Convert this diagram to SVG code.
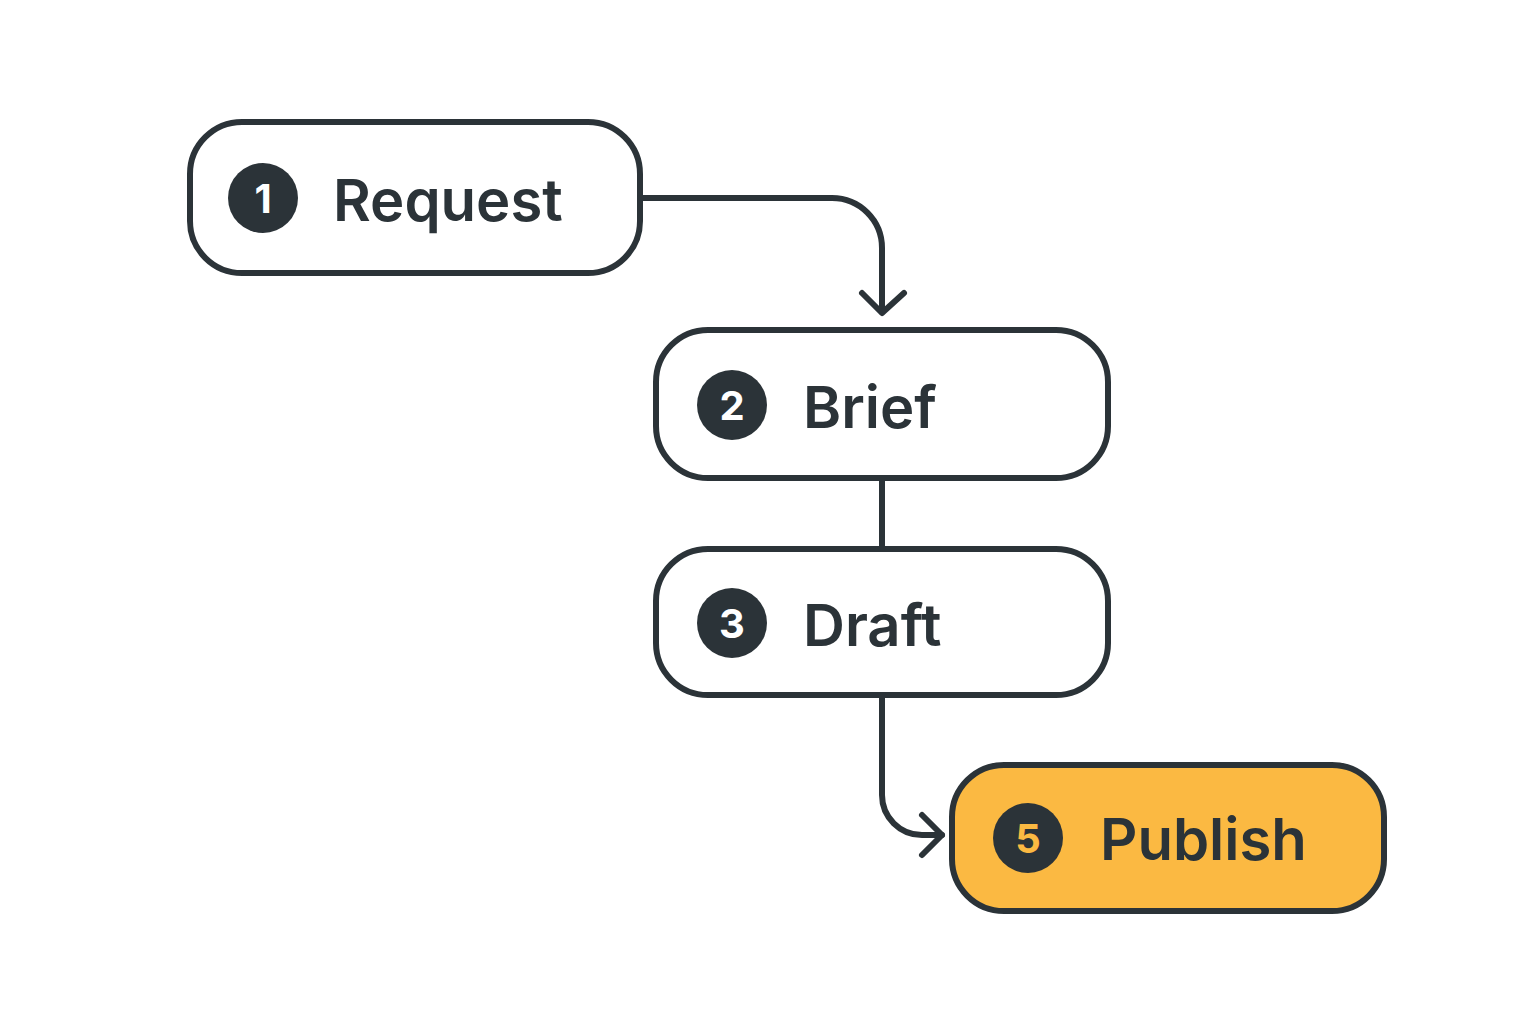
<svg xmlns="http://www.w3.org/2000/svg" width="1536" height="1024" viewBox="0 0 1536 1024">
<style>
.box{fill:#fff;stroke:#2b3338;stroke-width:6}
.hl{fill:#fbb942}
.badge{fill:#2b3338}
.num{fill:#fff;font-family:"Inter","Liberation Sans",sans-serif;font-weight:700;font-size:40px;text-anchor:middle}
.lbl{fill:#2b3338;font-family:"Inter","Liberation Sans",sans-serif;font-weight:600;font-size:58px}
.c{fill:none;stroke:#2b3338;stroke-width:6;stroke-linecap:round;stroke-linejoin:round}
</style>
<rect width="1536" height="1024" fill="#fff"/>
<g id="connectors">
<path class="c" d="M640 198 H832 A50 50 0 0 1 882 248 V312"/>
<path class="c" d="M862 293 L882 313 L904 293"/>
<path class="c" d="M882 478 V549"/>
<path class="c" d="M882 695 V795 A40 40 0 0 0 922 835 H942"/>
<path class="c" d="M922 815 L942 835 L922 855"/>
</g>
<g id="node1">
<rect class="box" x="190" y="122" width="450" height="151" rx="52"/>
<circle class="badge" cx="263" cy="198" r="35"/>
<text class="num" x="263" y="213">1</text>
<text class="lbl" x="333" y="221">Request</text>
</g>
<g id="node2">
<rect class="box" x="656" y="330" width="452" height="148" rx="52"/>
<circle class="badge" cx="732" cy="405" r="35"/>
<text class="num" x="732" y="420">2</text>
<text class="lbl" x="803" y="428">Brief</text>
</g>
<g id="node3">
<rect class="box" x="656" y="549" width="452" height="146" rx="52"/>
<circle class="badge" cx="732" cy="623" r="35"/>
<text class="num" x="732" y="638">3</text>
<text class="lbl" x="803" y="646">Draft</text>
</g>
<g id="node5">
<rect class="box hl" x="952" y="765" width="432" height="146" rx="52"/>
<circle class="badge" cx="1028" cy="838" r="35"/>
<text class="num" x="1028" y="853" fill="#fbb942" style="fill:#fbb942">5</text>
<text class="lbl" x="1100" y="860">Publish</text>
</g>
</svg>
